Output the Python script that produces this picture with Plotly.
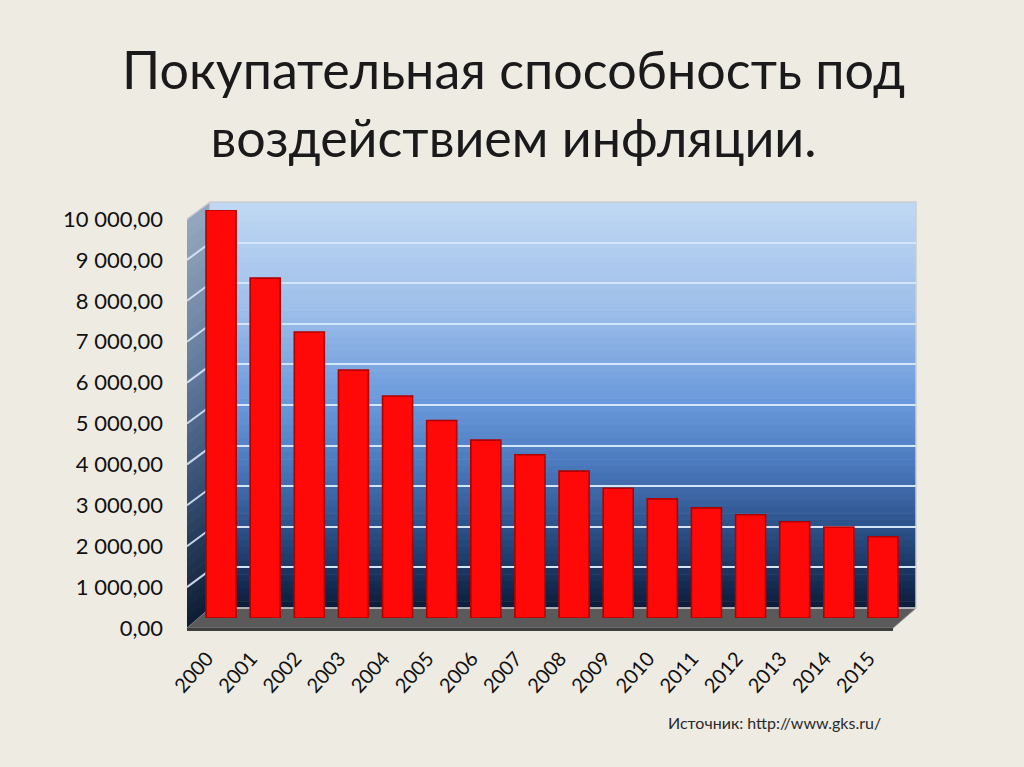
import plotly.graph_objects as go

# ---------------- data ----------------
years = ['2000', '2001', '2002', '2003', '2004', '2005', '2006', '2007',
         '2008', '2009', '2010', '2011', '2012', '2013', '2014', '2015']
values = [10000, 8330, 7010, 6080, 5440, 4840, 4360, 4000,
          3600, 3180, 2920, 2700, 2530, 2360, 2230, 1990]
tick_vals = [0, 1000, 2000, 3000, 4000, 5000, 6000, 7000, 8000, 9000, 10000]
tick_text = ['0,00', '1 000,00', '2 000,00', '3 000,00', '4 000,00', '5 000,00',
             '6 000,00', '7 000,00', '8 000,00', '9 000,00', '10 000,00']
title_text = 'Покупательная способность под<br>воздействием инфляции.'
source_text = 'Источник: http://www.gks.ru/'

# ---------------- geometry helpers ----------------
W, H = 1024, 767
def px(x):
    return x / W
def py(y):
    return 1 - y / H

FONT = 'Lato'
BG = '#EEEBE3'

# 3D box pixel layout
BACK_L, BACK_R, BACK_T, BACK_B = 210, 916, 202, 608
FRONT_L, FRONT_R, FRONT_T, FRONT_B = 187, 893, 219, 628
MID_T, MID_B = 210, 618
MID_L, MID_R = 199, 905
LABEL_SHIFT = 2

def lerp(a, b, t):
    return a + (b - a) * t

def grad_color(stops, t):
    for i in range(len(stops) - 1):
        t0, c0 = stops[i]
        t1, c1 = stops[i + 1]
        if t0 <= t <= t1:
            f = (t - t0) / (t1 - t0) if t1 > t0 else 0
            c = [round(lerp(c0[k], c1[k], f)) for k in range(3)]
            return 'rgb(%d,%d,%d)' % tuple(c)
    c = stops[-1][1]
    return 'rgb(%d,%d,%d)' % tuple(c)

wall_stops = [(0.0, (192, 216, 243)), (0.25, (160, 192, 234)), (0.5, (104, 152, 218)),
              (0.65, (74, 120, 188)), (0.8, (44, 82, 138)), (0.92, (24, 50, 92)),
              (1.0, (12, 28, 56))]
side_stops = [(0.0, (150, 168, 192)), (0.4, (95, 120, 155)), (0.7, (50, 75, 110)),
              (1.0, (14, 28, 52))]

shapes = []
# back wall gradient
N = 60
for i in range(N):
    t0 = i / N
    t1 = (i + 1) / N
    y0 = lerp(BACK_T, BACK_B, t0)
    y1 = lerp(BACK_T, BACK_B, t1) + 0.6
    shapes.append(dict(type='rect', xref='paper', yref='paper', layer='below',
                       x0=px(BACK_L), x1=px(BACK_R), y0=py(y0), y1=py(y1),
                       fillcolor=grad_color(wall_stops, (t0 + t1) / 2),
                       line=dict(width=0)))
# side wall gradient (trapezoid bands)
NS = 40
for i in range(NS):
    t0 = i / NS
    t1 = (i + 1) / NS
    fy0 = lerp(FRONT_T, FRONT_B, t0)
    fy1 = lerp(FRONT_T, FRONT_B, t1) + 0.6
    by0 = lerp(BACK_T, BACK_B, t0)
    by1 = lerp(BACK_T, BACK_B, t1) + 0.6
    path = 'M %f,%f L %f,%f L %f,%f L %f,%f Z' % (
        px(FRONT_L), py(fy0), px(BACK_L), py(by0), px(BACK_L), py(by1), px(FRONT_L), py(fy1))
    shapes.append(dict(type='path', xref='paper', yref='paper', layer='below', path=path,
                       fillcolor=grad_color(side_stops, (t0 + t1) / 2), line=dict(width=0)))
# side-wall slanted grid lines anchored on the front value axis
for v in tick_vals[1:]:
    shapes.append(dict(type='line', xref='paper', yref='y3', layer='below',
                       ysizemode='pixel', yanchor=v, y0=0, y1=17,
                       x0=px(FRONT_L), x1=px(BACK_L),
                       line=dict(color='rgba(215,230,248,0.9)', width=2)))
# floor
floor_path = 'M %f,%f L %f,%f L %f,%f L %f,%f Z' % (
    px(FRONT_L), py(FRONT_B), px(FRONT_R), py(FRONT_B),
    px(BACK_R), py(BACK_B), px(BACK_L), py(BACK_B))
shapes.append(dict(type='path', xref='paper', yref='paper', layer='below', path=floor_path,
                   fillcolor='#5a5a5a', line=dict(color='#7c7c7c', width=1)))
# front edge of floor (thin slab)
slab_path = 'M %f,%f L %f,%f L %f,%f L %f,%f Z' % (
    px(FRONT_L), py(FRONT_B), px(FRONT_R), py(FRONT_B),
    px(FRONT_R), py(FRONT_B + 3), px(FRONT_L), py(FRONT_B + 3))
shapes.append(dict(type='path', xref='paper', yref='paper', layer='below', path=slab_path,
                   fillcolor='#3e3e3e', line=dict(width=0)))
# back wall outline
shapes.append(dict(type='rect', xref='paper', yref='paper', layer='below',
                   x0=px(BACK_L), x1=px(BACK_R), y0=py(BACK_B), y1=py(BACK_T),
                   fillcolor='rgba(0,0,0,0)', line=dict(color='#c9cdd2', width=1.5)))
shapes.append(dict(type='line', xref='paper', yref='paper', layer='below',
                   x0=px(FRONT_L), y0=py(FRONT_T), x1=px(BACK_L), y1=py(BACK_T),
                   line=dict(color='#c9cdd2', width=1.5)))

fig = go.Figure()
# subplot 1 (x, y): back wall grid
fig.add_trace(go.Scatter(x=[], y=[], xaxis='x', yaxis='y', hoverinfo='skip'))
# subplot 2 (x2, y2): bars at mid depth
fig.add_trace(go.Bar(x=list(range(len(years))), y=values, xaxis='x2', yaxis='y2',
                     width=0.68,
                     marker=dict(color='#FF0808', line=dict(color='#B00000', width=1.6)),
                     hovertext=years, hoverinfo='text+y'))
# subplot 3 (x3, y3): front labels
fig.add_trace(go.Scatter(x=[], y=[], xaxis='x3', yaxis='y3', hoverinfo='skip'))

fig.update_layout(
    width=W, height=H, autosize=False,
    margin=dict(l=0, r=0, t=0, b=0, pad=0, autoexpand=False),
    paper_bgcolor=BG, plot_bgcolor='rgba(0,0,0,0)',
    showlegend=False,
    shapes=shapes,
    xaxis=dict(domain=[px(BACK_L), px(BACK_R)], anchor='y', range=[-0.5, 15.5],
               showgrid=False, zeroline=False, showticklabels=False, showline=False,
               automargin=False),
    yaxis=dict(domain=[py(BACK_B), py(BACK_T)], anchor='x', range=[0, 10000],
               dtick=1000, showgrid=True, gridcolor='#D3E5F8', gridwidth=2,
               zeroline=False, showticklabels=False, showline=False, automargin=False),
    xaxis2=dict(domain=[px(MID_L), px(MID_R)], anchor='y2', range=[-0.5, 15.5],
                showgrid=False, zeroline=False, showticklabels=False, showline=False,
                automargin=False),
    yaxis2=dict(domain=[py(MID_B), py(MID_T)], anchor='x2', range=[0, 10000],
                showgrid=False, zeroline=False, showticklabels=False, showline=False,
                automargin=False),
    xaxis3=dict(domain=[px(FRONT_L - LABEL_SHIFT), px(FRONT_R - LABEL_SHIFT)], anchor='y3',
                range=[-0.5, 15.5],
                tickvals=list(range(len(years))), ticktext=years, tickangle=-48,
                showgrid=False, zeroline=False, showline=False, ticks='',
                ticklabelstandoff=14, automargin=False,
                tickfont=dict(family=FONT, size=20, color='#111111')),
    yaxis3=dict(domain=[py(FRONT_B), py(FRONT_T)], anchor='free', position=px(FRONT_L),
                side='left', range=[0, 10000], tickvals=tick_vals, ticktext=tick_text,
                showgrid=False, zeroline=False, showline=False, ticks='',
                ticklabelstandoff=24, automargin=False,
                tickfont=dict(family=FONT, size=22, color='#111111')),
    annotations=[
        dict(text=title_text, xref='paper', yref='paper', x=px(513), y=py(36),
             xanchor='center', yanchor='top', showarrow=False,
             font=dict(family=FONT, size=52, color='#1a1a1a')),
        dict(text=source_text, xref='paper', yref='paper', x=px(883), y=py(722),
             xanchor='right', yanchor='middle', showarrow=False,
             font=dict(family=FONT, size=16, color='#2a2a2a')),
    ],
)

fig.write_html('out.html', config={'displayModeBar': False},
               post_script="document.body.style.margin='0';")
